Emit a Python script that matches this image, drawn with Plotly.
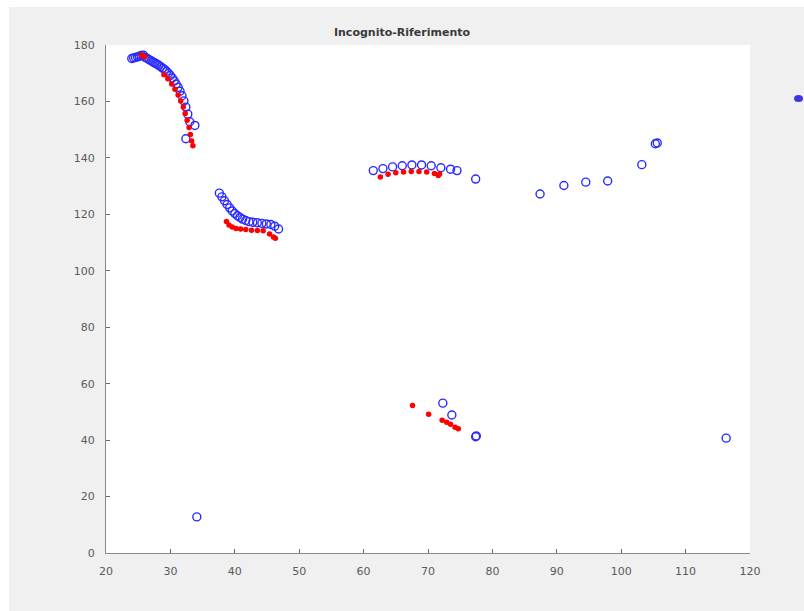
import plotly.graph_objects as go

# Riferimento points (blue open circles)
rif_x = [24.0, 24.3, 24.6, 24.9, 25.2, 25.5, 25.8, 26.1, 26.4, 26.7, 27.0, 27.3, 27.6, 27.9,
         28.2, 28.5, 28.8, 29.1, 29.4, 29.7, 30.0, 30.3, 30.6, 30.9, 31.2, 31.5, 31.8, 32.1,
         32.4, 32.7, 33.0, 33.8, 32.4,
         37.6, 38.0, 38.4, 38.8, 39.2, 39.6, 40.0, 40.4, 40.8, 41.2, 41.7, 42.2, 42.8, 43.5,
         44.2, 44.9, 45.6, 46.2, 46.8,
         61.5, 63.0, 64.5, 66.0, 67.5, 69.0, 70.5, 72.0, 73.5, 74.5, 77.4, 87.4, 91.1, 94.5,
         97.9, 103.2, 105.3, 105.6,
         72.3, 73.7, 77.4, 77.5, 34.1, 116.3]
rif_y = [175.2, 175.4, 175.6, 175.8, 176.0, 176.3, 176.4, 175.6, 175.2, 174.8, 174.4, 174.0, 173.6, 173.2,
         172.8, 172.3, 171.8, 171.3, 170.7, 170.0, 169.2, 168.3, 167.3, 166.2, 165.0, 163.6, 162.0, 160.2,
         158.0, 155.5, 152.8, 151.5, 146.8,
         127.5, 126.2, 124.8, 123.5, 122.3, 121.2, 120.3, 119.5, 118.9, 118.3, 117.8, 117.4, 117.2, 117.0,
         116.8, 116.6, 116.4, 115.8, 114.8,
         135.5, 136.2, 136.8, 137.2, 137.5, 137.5, 137.2, 136.5, 136.0, 135.5, 132.5, 127.2, 130.2, 131.4,
         131.8, 137.6, 145.0, 145.3,
         53.1, 48.9, 41.2, 41.5, 12.8, 40.7]

# Incognito points (red markers)
inc_x = [25.5, 26.0, 29.0, 29.6, 30.2, 30.7, 31.2, 31.6, 32.0, 32.3, 32.6, 32.9, 33.1, 33.3, 33.5,
         38.7, 39.1, 39.6, 40.2, 40.9, 41.7, 42.6, 43.5, 44.4, 45.4, 46.0, 46.3,
         62.6, 63.8, 65.0, 66.2, 67.4, 68.6, 69.8, 71.0, 71.6, 71.8,
         67.6, 70.1, 72.2, 72.9, 73.5, 74.2, 74.7]
inc_y = [176.5, 175.8, 169.5, 168.0, 166.2, 164.3, 162.3, 160.2, 158.0, 155.7, 153.3, 150.8, 148.3, 146.0, 144.3,
         117.5, 116.2, 115.5, 115.0, 114.8, 114.6, 114.4, 114.3, 114.2, 113.0, 112.0, 111.5,
         133.2, 134.2, 134.7, 135.0, 135.2, 135.2, 135.0, 134.5, 133.8, 134.3,
         52.3, 49.2, 47.0, 46.3, 45.6, 44.6, 44.0]

x_ticks = list(range(20, 121, 10))
y_ticks = list(range(0, 181, 20))

W, H = 804, 611
L, R, T, B = 106, 54, 45, 58
pw, ph = W - L - R, H - T - B


def px(xp):
    return (xp - L) / pw


def py(yp):
    return (H - B - yp) / ph


fig = go.Figure()
fig.add_trace(go.Scatter(
    x=rif_x, y=rif_y, mode="markers", name="Riferimento",
    marker=dict(symbol="circle-open", size=8, color="#2a2aff", line=dict(width=1.4)),
))
fig.add_trace(go.Scatter(
    x=inc_x, y=inc_y, mode="markers", name="Incognito",
    marker=dict(symbol="circle", size=5.5, color="#ff0000"),
))

shapes = [
    # grey figure window
    dict(type="rect", xref="paper", yref="paper", layer="below",
         x0=px(9), x1=px(W + 5), y0=py(H + 5), y1=py(7),
         fillcolor="#f0f0f0", line=dict(width=0)),
    # white axes area
    dict(type="rect", xref="paper", yref="paper", layer="below",
         x0=0, x1=1, y0=0, y1=1, fillcolor="#ffffff", line=dict(width=0)),
    # legend marker peeking in at the right edge
    dict(type="circle", xref="paper", yref="paper", layer="above",
         x0=px(794), x1=px(803), y0=py(102), y1=py(95),
         fillcolor="#3a3ae0", line=dict(width=0)),
]

axis_common = dict(
    showgrid=False, zeroline=False, showline=True, linecolor="#8a8a8a", linewidth=1,
    ticks="inside", ticklen=4, tickcolor="#6a6a6a", tickwidth=1,
    tickfont=dict(family="DejaVu Sans", size=11, color="#5a5a5a"),
    mirror=False,
)

fig.update_layout(
    width=W, height=H,
    margin=dict(l=L, r=R, t=T, b=B),
    paper_bgcolor="#ffffff",
    plot_bgcolor="rgba(0,0,0,0)",
    showlegend=False,
    shapes=shapes,
    title=dict(text="<b>Incognito-Riferimento</b>", x=px(428), xanchor="center",
               y=1 - 32 / H, yanchor="middle",
               font=dict(family="DejaVu Sans", size=11, color="#3a3a3a")),
    xaxis=dict(range=[20, 120], tickvals=x_ticks, ticklabelstandoff=8, **axis_common),
    yaxis=dict(range=[0, 180], tickvals=y_ticks, ticklabelstandoff=8, **axis_common),
)

fig.write_html("out.html")
